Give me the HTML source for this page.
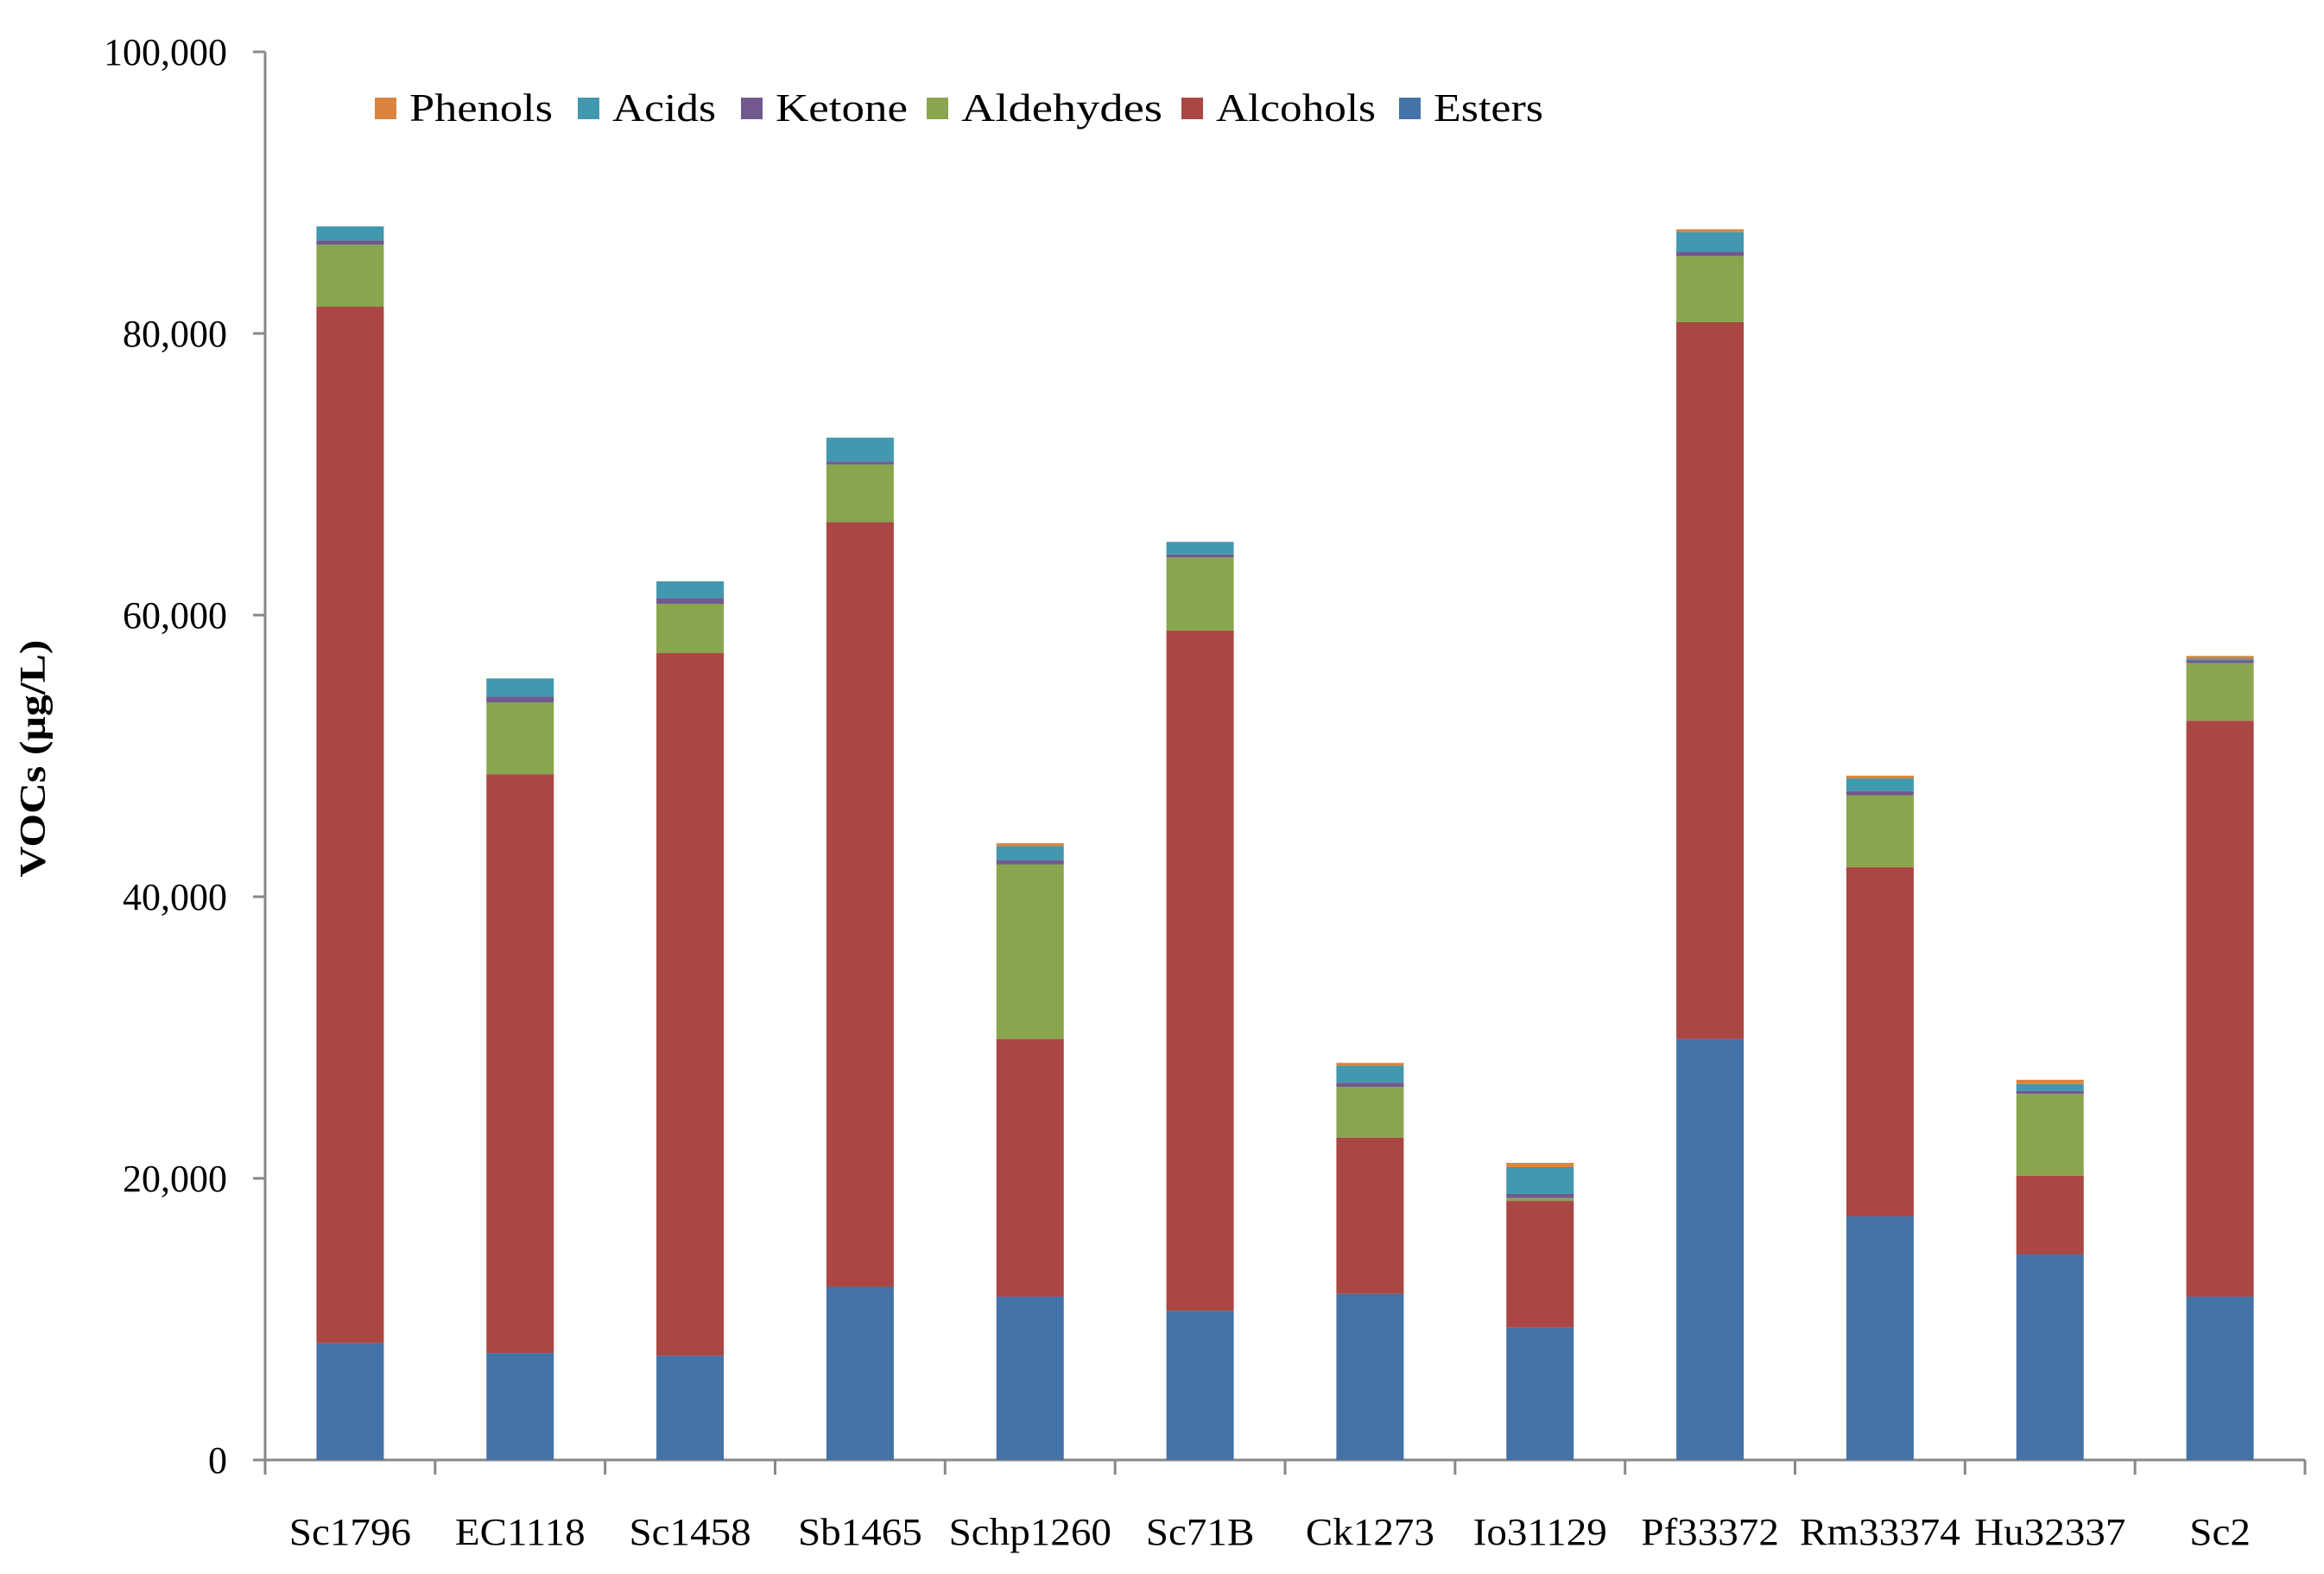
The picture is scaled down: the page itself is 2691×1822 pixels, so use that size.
<!DOCTYPE html>
<html><head><meta charset="utf-8"><style>
html,body{margin:0;padding:0;background:#fff;}
svg{display:block;font-family:"Liberation Serif",serif;}
</style></head><body>
<svg id="chart" width="2691" height="1822" viewBox="0 0 2691 1822" xmlns="http://www.w3.org/2000/svg">
<g id="axes"></g>
<g id="bars"></g>
<g id="legend"></g>
<text id="ytitle" x="0" y="0" transform="translate(52,878) rotate(-90)" text-anchor="middle" font-size="42" font-weight="bold" fill="#000" textLength="275" lengthAdjust="spacingAndGlyphs">VOCs (µg/L)</text>
</svg>
<script>
const categories = ["Sc1796","EC1118","Sc1458","Sb1465","Schp1260","Sc71B","Ck1273","Io31129","Pf33372","Rm33374","Hu32337","Sc2"];
const esters    = [8300,7600,7400,12300,11600,10600,11800,9400,29900,17300,14600,11600];
const alcohols  = [73600,41100,49900,54300,18300,48300,11100,9000,50900,24800,5600,40900];
const aldehydes = [4400,5100,3500,4100,12400,5200,3600,200,4700,5100,5800,4100];
const ketone    = [300,400,400,200,300,200,300,300,300,300,200,200];
const acids     = [1000,1300,1200,1700,1000,900,1200,1900,1400,900,500,100];
const phenols   = [0,0,0,0,200,0,200,300,200,200,300,200];
const yTicks = [0,20000,40000,60000,80000,100000];
const yTickLabels = ["0","20,000","40,000","60,000","80,000","100,000"];
const seriesNames = ["Esters","Alcohols","Aldehydes","Ketone","Acids","Phenols"];
const seriesData = [esters,alcohols,aldehydes,ketone,acids,phenols];
const colors = ["#4572A7","#AA4643","#89A54E","#71588F","#4198AF","#DB843D"];

const NS="http://www.w3.org/2000/svg";
const X0=307, X1=2669, Y0=1690, Ytop=60, YMAX=100000;
const catW=(X1-X0)/categories.length, barW=78;
function y(v){return Y0-(v/YMAX)*(Y0-Ytop);}
function xc(i){return X0+catW*(i+0.5);}
function mk(tag,attrs,parent){const e=document.createElementNS(NS,tag);for(const k in attrs)e.setAttribute(k,attrs[k]);parent.appendChild(e);return e;}
function stretch(t,f){const w=t.getComputedTextLength();t.setAttribute('textLength',w*f);t.setAttribute('lengthAdjust','spacingAndGlyphs');}

const axes=document.getElementById('axes');
let el=mk('line',{x1:X0,y1:Ytop,x2:X0,y2:Y0,stroke:'#888','stroke-width':3},axes);


el=mk('line',{x1:X0-14,y1:Y0,x2:X1,y2:Y0,stroke:'#888','stroke-width':3},axes);


yTicks.forEach((t,i)=>{
  const tk=mk('line',{x1:X0-14,y1:y(t),x2:X0,y2:y(t),stroke:'#888','stroke-width':3},axes);
  
  
  const tx=mk('text',{x:X0-44,y:y(t)+15,'text-anchor':'end','font-size':44,fill:'#000'},axes);
  tx.textContent=yTickLabels[i];
  
  
  stretch(tx,1.0);
});
for(let i=0;i<=categories.length;i++){
  const tk=mk('line',{x1:X0+catW*i,y1:Y0,x2:X0+catW*i,y2:Y0+17,stroke:'#888','stroke-width':3},axes);
  
  
}
categories.forEach((c,i)=>{
  const tx=mk('text',{x:xc(i),y:1788,'text-anchor':'middle','font-size':44,fill:'#000'},axes);
  tx.textContent=c;
  
  
  stretch(tx,1.07);
});

const bars=document.getElementById('bars');
categories.forEach((c,i)=>{
  let base=0;
  seriesData.forEach((s,k)=>{
    const v=s[i];
    if(v<=0){return;}
    const r=mk('rect',{x:xc(i)-barW/2,y:y(base+v),width:barW,height:y(base)-y(base+v),fill:colors[k]},bars);
    
    
    base+=v;
  });
});

const legend=document.getElementById('legend');
const legOrder=[5,4,3,2,1,0];
const legSq=[434,669,858,1073,1368,1620];
const legLen=[166,120,153,233,185,127];
legOrder.forEach((k,j)=>{
  const g=mk('g',{},legend);
  
  
  mk('rect',{x:legSq[j],y:113,width:25,height:25,fill:colors[k]},g);
  const t=mk('text',{x:legSq[j]+40,y:140,'font-size':46,fill:'#000',textLength:legLen[j],lengthAdjust:'spacingAndGlyphs'},g);
  t.textContent=seriesNames[k];
});
</script>
</body></html>
